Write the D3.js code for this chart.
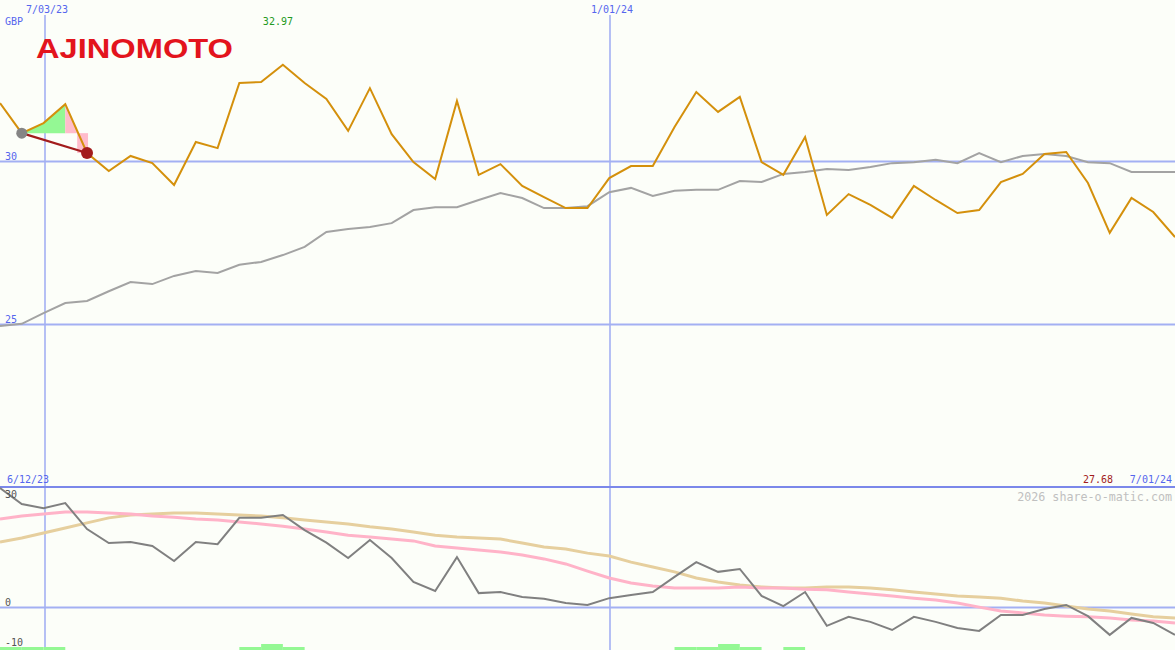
<!DOCTYPE html>
<html><head><meta charset="utf-8">
<script src="https://cdn.jsdelivr.net/npm/d3@7"></script>
<style>body{margin:0;background:#fcfef9;}svg{display:block;}</style>
</head><body>
<svg id="c" width="1175" height="650"></svg>
<script>
// ---- data (weekly, from 19 Jun 2023 to 1 Jul 2024) ----
const startDate = "2023-06-19";
const price = [31.79,30.87,31.18,31.76,30.26,29.71,30.17,29.95,29.28,30.60,30.41,32.41,32.44,32.97,32.41,31.92,30.94,32.25,30.84,29.98,29.46,31.86,29.59,29.92,29.25,28.91,28.57,28.57,29.49,29.86,29.86,31.06,32.13,31.52,31.98,29.98,29.59,30.75,28.36,29.00,28.67,28.27,29.25,28.82,28.42,28.51,29.37,29.62,30.23,30.29,29.34,27.81,28.88,28.45,27.68];
const movingAvg = [24.95,25.02,25.35,25.66,25.72,26.02,26.30,26.24,26.49,26.64,26.58,26.83,26.92,27.13,27.38,27.84,27.93,27.99,28.11,28.51,28.60,28.60,28.82,29.03,28.88,28.57,28.57,28.63,29.06,29.19,28.94,29.10,29.13,29.13,29.40,29.37,29.62,29.68,29.77,29.74,29.83,29.95,29.98,30.05,29.95,30.26,29.98,30.17,30.23,30.17,29.98,29.95,29.68,29.68,29.68];
const oscillator = [33.2,28.75,27.6,29.0,21.8,17.9,18.2,17.1,12.9,18.2,17.6,24.9,24.9,25.7,21.5,18.0,13.75,18.75,13.75,7.1,4.6,14.0,4.0,4.3,2.9,2.4,1.25,0.7,2.6,3.5,4.3,8.5,12.6,9.9,10.7,3.2,0.4,4.3,-5.1,-2.6,-4.0,-6.25,-2.6,-4.0,-5.7,-6.5,-2.1,-2.1,-0.4,0.7,-2.4,-7.6,-2.9,-4.3,-7.6];
const signalFast = [24.6,25.4,25.97,26.5,26.5,26.25,25.97,25.4,25.1,24.6,24.3,23.75,23.2,22.6,21.8,21.0,20.1,19.6,19.0,18.5,17.1,16.5,15.97,15.4,14.6,13.5,12.1,10.1,8.2,6.8,6.0,5.4,5.4,5.4,5.7,5.4,5.4,5.1,4.9,4.3,3.75,3.2,2.6,2.1,1.25,0.1,-1.0,-1.5,-2.1,-2.4,-2.6,-2.9,-3.5,-3.75,-4.3];
const signalSlow = [18.2,19.3,20.7,22.1,23.5,24.9,25.7,25.97,26.25,26.25,25.97,25.7,25.4,24.9,24.3,23.75,23.2,22.4,21.8,21.0,20.1,19.6,19.3,19.0,17.9,16.8,16.25,15.1,14.3,12.6,11.25,9.9,8.2,7.1,6.25,5.7,5.4,5.4,5.7,5.7,5.4,4.9,4.3,3.75,3.2,2.9,2.6,1.8,1.25,0.4,-0.4,-1.0,-1.8,-2.6,-2.9];
// buy-signal strength per weekly interval (index = interval start week)
const signalBars = [[0,1],[1,1],[2,1],[11,1],[12,2],[13,1],[31,1],[32,1],[33,2],[34,1],[36,1]];
const topTicks = [25, 30];
const bottomTicks = [30, 0];
const dateTicks = ["2023-07-03", "2024-01-01"];
const currency = "GBP";
const highLabel = "32.97";
const lastLabel = "27.68";
const rangeStartLabel = "6/12/23";
const rangeEndLabel = "7/01/24";
const company = "AJINOMOTO";
const watermark = "2026 share-o-matic.com";
// trade annotation: entry week, peak week, exit week
const entryWeek = 1, peakWeek = 3, exitWeek = 4;

// ---- layout ----
const W = 1175, H = 650, splitY = 487;
const parse = d3.utcParse("%Y-%m-%d");
const t0 = parse(startDate);
const dates = price.map((_, i) => d3.utcDay.offset(t0, 7 * i));
const x = d3.scaleUtc().domain([t0, parse("2024-07-01")]).range([0, W]);
const yT = d3.scaleLinear().domain([25, 30]).range([324.5, 161.5]);
const yB = d3.scaleLinear().domain([0, 30]).range([607.5, 499.5]);
const fmtDate = d => (d.getUTCMonth() + 1) + "/" + d3.utcFormat("%d/%y")(d);

const svg = d3.select("#c");
svg.append("rect").attr("width", W).attr("height", H).attr("fill", "#fcfef9");
const mono = "'DejaVu Sans Mono', monospace";
const grid = "#a3b0f3";

svg.append("clipPath").attr("id", "ct").append("rect").attr("width", W).attr("height", splitY);
svg.append("clipPath").attr("id", "cb").append("rect").attr("y", splitY).attr("width", W).attr("height", H - splitY);

// gridlines
const gGrid = svg.append("g");
topTicks.forEach(v => {
  gGrid.append("line").attr("x1", 0).attr("x2", W).attr("y1", yT(v)).attr("y2", yT(v)).attr("stroke", grid).attr("stroke-width", 2);
});
bottomTicks.filter(v => v === 0).forEach(v => {
  gGrid.append("line").attr("x1", 0).attr("x2", W).attr("y1", yB(v)).attr("y2", yB(v)).attr("stroke", grid).attr("stroke-width", 2);
});
dateTicks.forEach(s => {
  const xx = Math.round(x(parse(s))) + 1;
  gGrid.append("line").attr("x1", xx).attr("x2", xx).attr("y1", 15).attr("y2", H).attr("stroke", grid).attr("stroke-width", 1.6);
  svg.append("text").attr("x", xx + 2).attr("y", 13).attr("text-anchor", "middle")
    .attr("font-family", mono).attr("font-size", 10).attr("fill", "#5566ee").text(fmtDate(parse(s)));
});
svg.append("line").attr("x1", 0).attr("x2", W).attr("y1", splitY).attr("y2", splitY).attr("stroke", "#7b88ea").attr("stroke-width", 2);

// top panel
const topG = svg.append("g").attr("clip-path", "url(#ct)");
const lineT = arr => d3.line().x((d, i) => x(dates[i])).y(d => yT(d))(arr);
topG.append("path").attr("d", lineT(movingAvg)).attr("fill", "none").attr("stroke", "#a3a3a3").attr("stroke-width", 2);

// trade annotation fills
const lvlEntry = price[entryWeek];
const greenPts = [[x(dates[entryWeek]), yT(lvlEntry)]];
for (let i = entryWeek; i <= peakWeek; i++) greenPts.push([x(dates[i]), yT(price[i])]);
greenPts.push([x(dates[peakWeek]), yT(lvlEntry)]);
topG.append("path").attr("d", d3.line()(greenPts) + "Z").attr("fill", "#94f894");
// pink drawdown
const xp = x(dates[peakWeek]), xe = x(dates[exitWeek]);
const frac = (price[peakWeek] - lvlEntry) / (price[peakWeek] - price[exitWeek]);
const xCross = xp + (xe - xp) * frac;
topG.append("path").attr("d", d3.line()([[xp, yT(price[peakWeek])], [xCross, yT(lvlEntry)], [xp, yT(lvlEntry)]]) + "Z").attr("fill", "#ffbccb");
topG.append("rect").attr("x", xCross - 1).attr("y", yT(lvlEntry)).attr("width", xe + 1 - xCross + 1)
  .attr("height", yT(price[exitWeek]) - yT(lvlEntry)).attr("fill", "#ffbccb");

topG.append("path").attr("d", lineT(price)).attr("fill", "none").attr("stroke", "#d4900c").attr("stroke-width", 2);

topG.append("line").attr("x1", x(dates[entryWeek])).attr("y1", yT(price[entryWeek]))
  .attr("x2", x(dates[exitWeek])).attr("y2", yT(price[exitWeek])).attr("stroke", "#a21c1c").attr("stroke-width", 2.2);
topG.append("circle").attr("cx", x(dates[entryWeek])).attr("cy", yT(price[entryWeek])).attr("r", 5.5).attr("fill", "#858585");
topG.append("circle").attr("cx", x(dates[exitWeek])).attr("cy", yT(price[exitWeek])).attr("r", 6).attr("fill", "#a21c1c");

// labels top
topTicks.forEach(v => svg.append("text").attr("x", 5).attr("y", yT(v) - 2).attr("font-family", mono)
  .attr("font-size", 10).attr("fill", "#5566ee").text(v));
svg.append("text").attr("x", 5).attr("y", 25).attr("font-family", mono).attr("font-size", 10).attr("fill", "#5566ee").text(currency);
const iMax = price.indexOf(d3.max(price));
svg.append("text").attr("x", x(dates[iMax]) - 20).attr("y", 25).attr("font-family", mono).attr("font-size", 10).attr("fill", "#229922").text(highLabel);
svg.append("text").attr("x", 36).attr("y", 58).attr("font-family", "'Liberation Sans', Arial, sans-serif")
  .attr("font-size", 28).attr("font-weight", "bold").attr("fill", "#e3141d")
  .attr("textLength", 197).attr("lengthAdjust", "spacingAndGlyphs").text(company);

// bottom panel
const botG = svg.append("g").attr("clip-path", "url(#cb)");
const lineB = arr => d3.line().x((d, i) => x(dates[i])).y(d => yB(d))(arr);
botG.append("path").attr("d", lineB(signalSlow)).attr("fill", "none").attr("stroke", "#e6cf9e").attr("stroke-width", 3);
botG.append("path").attr("d", lineB(signalFast)).attr("fill", "none").attr("stroke", "#ffb3c8").attr("stroke-width", 3);
botG.append("path").attr("d", lineB(oscillator)).attr("fill", "none").attr("stroke", "#808080").attr("stroke-width", 2);
signalBars.forEach(([i, h]) => {
  const x1 = x(dates[i]), x2 = x(d3.utcDay.offset(dates[i], 7));
  botG.append("rect").attr("x", x1).attr("width", x2 - x1).attr("y", H - 3 * h).attr("height", 3 * h).attr("fill", "#94f894");
});

// labels bottom
bottomTicks.forEach(v => svg.append("text").attr("x", 5).attr("y", yB(v) - 2).attr("font-family", mono)
  .attr("font-size", 10).attr("fill", "#555").text(v));
svg.append("text").attr("x", 5).attr("y", 646).attr("font-family", mono).attr("font-size", 10).attr("fill", "#555").text(-10);
svg.append("text").attr("x", 7).attr("y", 483).attr("font-family", mono).attr("font-size", 10).attr("fill", "#5566ee").text(rangeStartLabel);
svg.append("text").attr("x", 1172).attr("y", 483).attr("text-anchor", "end").attr("font-family", mono).attr("font-size", 10).attr("fill", "#5566ee").text(rangeEndLabel);
svg.append("text").attr("x", 1083).attr("y", 483).attr("font-family", mono).attr("font-size", 10).attr("fill", "#a21c1c").text(lastLabel);
svg.append("text").attr("x", 1172).attr("y", 501).attr("text-anchor", "end").attr("font-family", mono).attr("font-size", 11.7).attr("fill", "#c0c0c0").text(watermark);
</script>
</body></html>
